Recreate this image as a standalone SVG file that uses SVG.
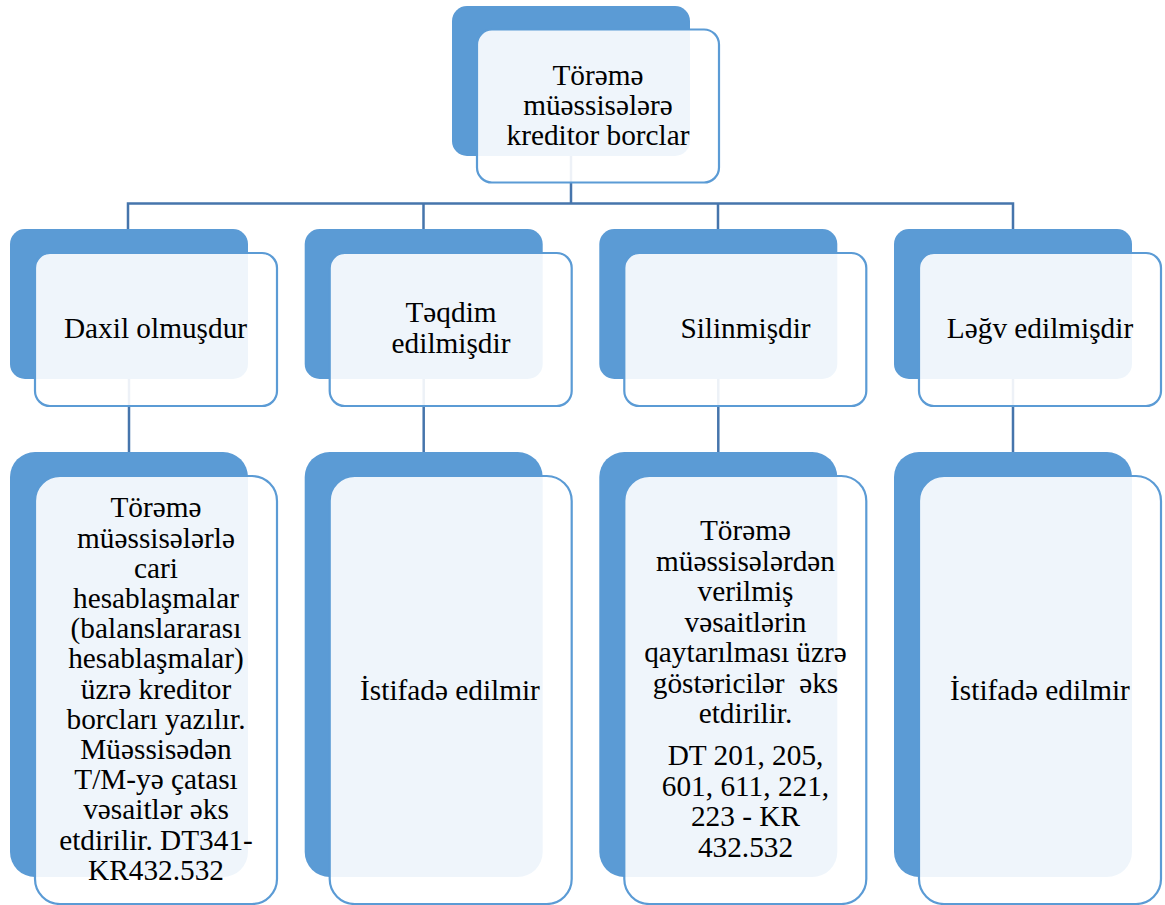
<svg xmlns="http://www.w3.org/2000/svg" width="1165" height="905" viewBox="0 0 1165 905">
<style>
.back{fill:#5B9BD5;}
.front{fill:#FFFFFF;fill-opacity:0.9;stroke:#5B9BD5;stroke-width:2.2;}
.conn{fill:none;stroke:#4675AC;stroke-width:2.5;}
.t{font-family:"Liberation Serif","Times New Roman",serif;font-size:29.3px;fill:#000;text-anchor:middle;}
</style>
<rect width="1165" height="905" fill="#FFFFFF"/>
<g id="connectors">
<path class="conn" d="M571 156 V203.5 M128 229 V203.5 H1013 V229 M423.5 203.5 V229 M718 203.5 V229"/>
<path class="conn" d="M129 378 V452 M423.7 378 V452 M718.3 378 V452 M1013 378 V452"/>
</g>
<g id="node-top">
<rect class="back" x="452" y="6" width="238" height="150" rx="15"/>
<rect class="front" x="477" y="29.5" width="242" height="153" rx="15"/>
<text class="t" x="598" y="85">Törəmə</text>
<text class="t" x="598" y="115">müəssisələrə</text>
<text class="t" x="598" y="145">kreditor borclar</text>
</g>
<g id="node-daxil">
<rect class="back" x="10" y="229" width="238" height="150" rx="15"/>
<rect class="front" x="35" y="253" width="242" height="153" rx="15"/>
<text class="t" x="155.5" y="338">Daxil olmuşdur</text>
</g>
<g id="node-teqdim">
<rect class="back" x="304.7" y="229" width="238" height="150" rx="15"/>
<rect class="front" x="329.7" y="253" width="242" height="153" rx="15"/>
<text class="t" x="451" y="322">Təqdim</text>
<text class="t" x="451" y="353">edilmişdir</text>
</g>
<g id="node-silinmis">
<rect class="back" x="599.3" y="229" width="238" height="150" rx="15"/>
<rect class="front" x="624.3" y="253" width="242" height="153" rx="15"/>
<text class="t" x="745.5" y="338">Silinmişdir</text>
</g>
<g id="node-legv">
<rect class="back" x="894" y="229" width="238" height="150" rx="15"/>
<rect class="front" x="919" y="253" width="242" height="153" rx="15"/>
<text class="t" x="1040" y="338">Ləğv edilmişdir</text>
</g>
<g id="node-daxil-desc">
<rect class="back" x="10" y="452" width="238" height="425" rx="25"/>
<rect class="front" x="35" y="476" width="242" height="428" rx="25"/>
<text class="t" x="156" y="517.3">Törəmə</text>
<text class="t" x="156" y="547.5">müəssisələrlə</text>
<text class="t" x="156" y="577.7">cari</text>
<text class="t" x="156" y="607.9">hesablaşmalar</text>
<text class="t" x="156" y="638.1">(balanslararası</text>
<text class="t" x="156" y="668.3">hesablaşmalar)</text>
<text class="t" x="156" y="698.5">üzrə kreditor</text>
<text class="t" x="156" y="728.7">borcları yazılır.</text>
<text class="t" x="156" y="758.9">Müəssisədən</text>
<text class="t" x="156" y="789.1">T/M-yə çatası</text>
<text class="t" x="156" y="819.3">vəsaitlər əks</text>
<text class="t" x="156" y="849.5">etdirilir. DT341-</text>
<text class="t" x="156" y="879.7">KR432.532</text>
</g>
<g id="node-teqdim-desc">
<rect class="back" x="304.7" y="452" width="238" height="425" rx="25"/>
<rect class="front" x="329.7" y="476" width="242" height="428" rx="25"/>
<text class="t" x="450" y="700">İstifadə edilmir</text>
</g>
<g id="node-silinmis-desc">
<rect class="back" x="599.3" y="452" width="238" height="425" rx="25"/>
<rect class="front" x="624.3" y="476" width="242" height="428" rx="25"/>
<text class="t" x="745.5" y="540">Törəmə</text>
<text class="t" x="745.5" y="570.5">müəssisələrdən</text>
<text class="t" x="745.5" y="601">verilmiş</text>
<text class="t" x="745.5" y="631.5">vəsaitlərin</text>
<text class="t" x="745.5" y="662">qaytarılması üzrə</text>
<text class="t" x="745.5" y="692.5" xml:space="preserve">göstəricilər  əks</text>
<text class="t" x="745.5" y="723">etdirilir.</text>
<text class="t" x="745.5" y="765">DT 201, 205,</text>
<text class="t" x="745.5" y="795.5">601, 611, 221,</text>
<text class="t" x="745.5" y="826">223 - KR</text>
<text class="t" x="745.5" y="856.5">432.532</text>
</g>
<g id="node-legv-desc">
<rect class="back" x="894" y="452" width="238" height="425" rx="25"/>
<rect class="front" x="919" y="476" width="242" height="428" rx="25"/>
<text class="t" x="1040" y="700">İstifadə edilmir</text>
</g>
</svg>
